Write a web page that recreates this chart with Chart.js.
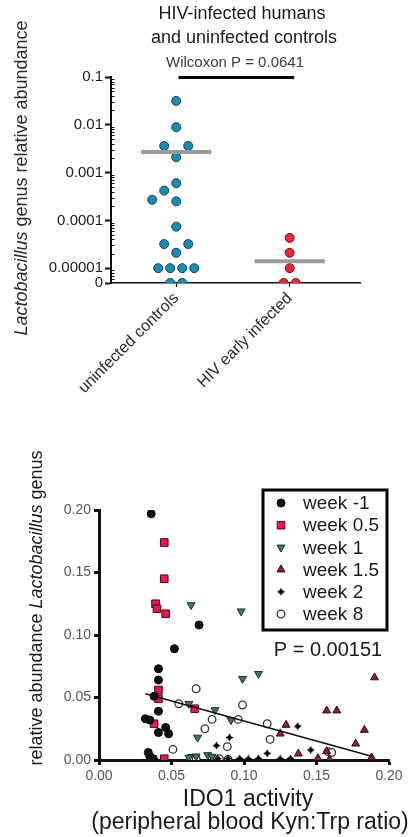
<!DOCTYPE html>
<html>
<head>
<meta charset="utf-8">
<script src="https://cdn.jsdelivr.net/npm/chart.js@4.4.1/dist/chart.umd.min.js"></script>
<style>
  html, body { margin: 0; padding: 0; background: #fff; }
  #wrap { position: relative; width: 415px; height: 837px; overflow: hidden; }
  #wrap canvas { position: absolute; left: 0; }
</style>
</head>
<body>
<div id="wrap">
  <canvas id="abundanceChart" width="415" height="420" style="top:0"></canvas>
  <canvas id="idoChart" width="415" height="417" style="top:420px"></canvas>
</div>
<script>
// --- panel 1: Lactobacillus abundance, controls vs early HIV ---
const groupLabels = ['uninfected controls', 'HIV early infected'];
const controlAbundance = [0.0316, 0.0089, 0.0036, 0.0036, 0.0021, 0.0006, 0.00042, 0.00027, 0.00025,
  0.000074, 0.000032, 0.000032, 0.000021, 0.00001, 0.00001, 0.00001, 0.00001, 0, 0];
const hivAbundance = [0.000043, 0.000021, 0.00001, 0, 0];
const groupMeans = [0.0027, 0.000014];
const abundanceTicks = [0.1, 0.01, 0.001, 0.0001, 0.00001, 0];
const abundanceTickLabels = ['0.1', '0.01', '0.001', '0.0001', '0.00001', '0'];
const abundanceTitle = ['HIV-infected humans', 'and uninfected controls'];
const wilcoxonLabel = 'Wilcoxon P = 0.0641';

// --- panel 2: abundance vs IDO1 activity by week ---
const weekLabels = ['week -1', 'week 0.5', 'week 1', 'week 1.5', 'week 2', 'week 8'];
const weekM1Ido = [0.036, 0.069, 0.052, 0.041, 0.041, 0.038, 0.041, 0.032, 0.035, 0.046, 0.041, 0.048, 0.034, 0.035, 0.0375];
const weekM1Lacto = [0.197, 0.108, 0.089, 0.073, 0.064, 0.051, 0.039, 0.033, 0.032, 0.026, 0.022, 0.021, 0.006, 0.003, 0.001];
const week05Ido = [0.045, 0.045, 0.039, 0.040, 0.046, 0.041, 0.041, 0.038, 0.066, 0.045];
const week05Lacto = [0.174, 0.145, 0.125, 0.121, 0.117, 0.056, 0.049, 0.029, 0.041, 0.001];
const week1Ido = [0.0635, 0.098, 0.099, 0.110, 0.062, 0.080, 0.091, 0.068, 0.062, 0.067, 0.075, 0.078];
const week1Lacto = [0.124, 0.119, 0.065, 0.069, 0.045, 0.040, 0.032, 0.018, 0.002, 0.003, 0.004, 0.0027];
const week15Ido = [0.190, 0.157, 0.164, 0.183, 0.129, 0.125, 0.177, 0.1375, 0.157, 0.151, 0.159, 0.188];
const week15Lacto = [0.066, 0.0395, 0.0395, 0.024, 0.028, 0.021, 0.013, 0.005, 0.007, 0.0013, 0.0006, 0.002];
const week2Ido = [0.137, 0.090, 0.081, 0.116, 0.146, 0.082, 0.089, 0.097, 0.103, 0.110, 0.125, 0.132];
const week2Lacto = [0.027, 0.018, 0.0115, 0.0053, 0.008, 0.001, 0.001, 0.0012, 0.001, 0.0012, 0.001, 0.0012];
const week8Ido = [0.067, 0.055, 0.099, 0.116, 0.078, 0.073, 0.096, 0.118, 0.0885, 0.051, 0.158, 0.1605, 0.063, 0.067, 0.083, 0.089];
const week8Lacto = [0.057, 0.045, 0.044, 0.029, 0.0325, 0.025, 0.0325, 0.0165, 0.0107, 0.0085, 0.0067, 0.006, 0.0015, 0.001, 0.001, 0.0005];
const fitIdo = [0.032, 0.188];
const fitLacto = [0.053, 0.003];
const idoTicks = [0, 0.05, 0.1, 0.15, 0.2];
const lactoTicks = [0, 0.05, 0.1, 0.15, 0.2];
const pValueLabel = 'P = 0.00151';

const fontFamily = '"Liberation Sans", Arial, Helvetica, sans-serif';
const zeroLevel = -5.31;      // where "0" sits below the 1e-5 decade
const dotStep = 0.106;        // horizontal swarm step, in category units
const rowHeight = 4;          // swarm step per decade, in dot steps
const meanHalfWidth = 0.31;

const toLog = (v) => (v > 0 ? Math.log10(v) : zeroLevel);

// simple bee swarm: rows of equal values are centred, then pushed apart if they hit dots below
const swarmOffsets = (values) => {
  const offsets = new Array(values.length).fill(0);
  const placed = [];
  const order = values.map((v, i) => i).sort((a, b) => toLog(values[a]) - toLog(values[b]));
  const hits = (off, y) => placed.some((p) => Math.hypot(p.x - off, (p.y - y) * rowHeight) < 1.1);

  let k = 0;
  while (k < order.length) {
    const v = values[order[k]];
    let n = 1;
    while (k + n < order.length && values[order[k + n]] === v) n++;
    const y = toLog(v);
    let layouts;
    if (n === 1) {
      layouts = [[0], [-1], [1], [-2], [2]];
    } else {
      const centred = Array.from({ length: n }, (_, i) => i - (n - 1) / 2);
      const widened = centred.map((o) => o + Math.sign(o) * 0.5);
      layouts = [centred, widened];
    }
    const pick = layouts.find((l) => l.every((o) => !hits(o, y))) || layouts[layouts.length - 1];
    pick.forEach((o, j) => {
      offsets[order[k + j]] = o;
      placed.push({ x: o, y });
    });
    k += n;
  }
  return offsets;
};

const dotPoints = (values, group) => {
  const offsets = swarmOffsets(values);
  return values.map((v, i) => ({ x: group + 1 + offsets[i] * dotStep, y: toLog(v) }));
};

const meanLine = (group) => [
  { x: group + 1 - meanHalfWidth, y: toLog(groupMeans[group]) },
  { x: group + 1 + meanHalfWidth, y: toLog(groupMeans[group]) }
];

const drawRotatedText = (ctx, parts, cx, cy, size, color) => {
  ctx.save();
  ctx.translate(cx, cy);
  ctx.rotate(-Math.PI / 2);
  ctx.fillStyle = color;
  ctx.textBaseline = 'middle';
  ctx.textAlign = 'left';
  const fontOf = (p) => `${p.italic ? 'italic ' : ''}${size}px ${fontFamily}`;
  let total = 0;
  parts.forEach((p) => { ctx.font = fontOf(p); total += ctx.measureText(p.text).width; });
  let x = -total / 2;
  parts.forEach((p) => {
    ctx.font = fontOf(p);
    ctx.fillText(p.text, x, 0);
    x += ctx.measureText(p.text).width;
  });
  ctx.restore();
};

const drawCentredText = (ctx, text, cx, cy, size, color) => {
  ctx.save();
  ctx.font = `${size}px ${fontFamily}`;
  ctx.fillStyle = color;
  ctx.textAlign = 'center';
  ctx.textBaseline = 'middle';
  ctx.fillText(text, cx, cy);
  ctx.restore();
};

const abundanceDecor = {
  id: 'abundanceDecor',
  afterDraw(chart) {
    const { ctx, scales: { x, y } } = chart;
    const axisX = chart.chartArea.left;

    // minor log ticks on the inside of the y axis
    ctx.save();
    ctx.strokeStyle = '#111';
    ctx.lineWidth = 1;
    for (let d = -6; d <= -2; d++) {
      for (let m = 2; m <= 9; m++) {
        const pos = Math.log10(m) + d;
        if (pos <= zeroLevel + 0.02 || pos >= -1) continue;
        const py = Math.round(y.getPixelForValue(pos)) + 0.5;
        ctx.beginPath();
        ctx.moveTo(axisX, py);
        ctx.lineTo(axisX + 3.5, py);
        ctx.stroke();
      }
    }

    // comparison bar
    const barY = y.getPixelForValue(-1) + 0.5;
    ctx.lineWidth = 3;
    ctx.strokeStyle = '#000';
    ctx.beginPath();
    ctx.moveTo(x.getPixelForValue(1.02), barY);
    ctx.lineTo(x.getPixelForValue(2.04), barY);
    ctx.stroke();
    ctx.restore();

    drawCentredText(ctx, abundanceTitle[0], 242, 14, 18, '#1a1a1a');
    drawCentredText(ctx, abundanceTitle[1], 244, 38, 18, '#1a1a1a');
    drawCentredText(ctx, wilcoxonLabel, 235, 63, 15, '#3a3a3a');
    drawRotatedText(ctx, [
      { text: 'Lactobacillus', italic: true },
      { text: ' genus relative abundance' }
    ], 22, 178, 18, '#2a2a2a');
  }
};

new Chart(document.getElementById('abundanceChart'), {
  type: 'scatter',
  data: {
    datasets: [
      {
        label: 'control means',
        type: 'line',
        data: meanLine(0),
        borderColor: '#9b9b9b',
        borderWidth: 4,
        pointRadius: 0,
        order: 0
      },
      {
        label: 'HIV means',
        type: 'line',
        data: meanLine(1),
        borderColor: '#9b9b9b',
        borderWidth: 4,
        pointRadius: 0,
        order: 0
      },
      {
        label: groupLabels[0],
        data: dotPoints(controlAbundance, 0),
        backgroundColor: '#1d8bb3',
        borderColor: '#0f3f55',
        borderWidth: 1,
        pointRadius: 4.5,
        order: 1
      },
      {
        label: groupLabels[1],
        data: dotPoints(hivAbundance, 1),
        backgroundColor: '#e52a3b',
        borderColor: '#6d1119',
        borderWidth: 1,
        pointRadius: 4.5,
        order: 1
      }
    ]
  },
  options: {
    responsive: false,
    animation: false,
    layout: { padding: { top: 77, right: 55, left: 0, bottom: 0 } },
    plugins: { legend: { display: false }, tooltip: { enabled: false } },
    scales: {
      x: {
        type: 'linear',
        min: 0.425,
        max: 2.62,
        afterBuildTicks: (scale) => { scale.ticks = groupLabels.map((g, i) => ({ value: i + 1 })); },
        afterFit: (scale) => { scale.height = 137; },
        ticks: {
          autoSkip: false,
          minRotation: 45,
          maxRotation: 45,
          padding: 2,
          color: '#2a2a2a',
          font: { family: fontFamily, size: 16 },
          callback: (value, index) => groupLabels[index]
        },
        grid: { drawOnChartArea: false, tickLength: 4, tickColor: '#111', tickWidth: 1 },
        border: { color: '#111', width: 1.5 }
      },
      y: {
        type: 'linear',
        min: zeroLevel,
        max: -1,
        afterBuildTicks: (scale) => { scale.ticks = abundanceTicks.map((v) => ({ value: toLog(v) })); },
        afterFit: (scale) => { scale.width = 111; },
        ticks: {
          padding: 2,
          color: '#1a1a1a',
          font: { family: fontFamily, size: 15 },
          callback: (value, index) => abundanceTickLabels[index]
        },
        grid: { drawOnChartArea: false, tickLength: 6, tickColor: '#111', tickWidth: 2 },
        border: { color: '#111', width: 2 }
      }
    }
  },
  plugins: [abundanceDecor]
});

// small filled four-point star for week 2
const makeStar = () => {
  const c = document.createElement('canvas');
  c.width = 9;
  c.height = 9;
  const g = c.getContext('2d');
  g.fillStyle = '#000';
  g.beginPath();
  g.moveTo(4.5, 0.5);
  g.lineTo(6.0, 3.0);
  g.lineTo(8.5, 4.5);
  g.lineTo(6.0, 6.0);
  g.lineTo(4.5, 8.5);
  g.lineTo(3.0, 6.0);
  g.lineTo(0.5, 4.5);
  g.lineTo(3.0, 3.0);
  g.closePath();
  g.fill();
  return c;
};

const toXY = (xs, ys) => xs.map((x, i) => ({ x, y: ys[i] }));

const weekStyles = [
  { pointStyle: 'circle', pointRadius: 4, backgroundColor: '#111', borderColor: '#000', borderWidth: 1 },
  { pointStyle: 'rect', pointRadius: 5.4, backgroundColor: '#e3194f', borderColor: '#4a0a18', borderWidth: 1 },
  { pointStyle: 'triangle', rotation: 180, pointRadius: 4.6, backgroundColor: '#3f7569', borderColor: '#17302a', borderWidth: 1 },
  { pointStyle: 'triangle', pointRadius: 4.6, backgroundColor: '#8c1f40', borderColor: '#2a0a12', borderWidth: 1 },
  { pointStyle: makeStar(), pointRadius: 4.5, backgroundColor: '#000', borderColor: '#000', borderWidth: 0 },
  { pointStyle: 'circle', pointRadius: 3.8, backgroundColor: '#fff', borderColor: '#333', borderWidth: 1.3 }
];

const weekData = [
  toXY(weekM1Ido, weekM1Lacto),
  toXY(week05Ido, week05Lacto),
  toXY(week1Ido, week1Lacto),
  toXY(week15Ido, week15Lacto),
  toXY(week2Ido, week2Lacto),
  toXY(week8Ido, week8Lacto)
];

const idoDecor = {
  id: 'idoDecor',
  afterDraw(chart) {
    const { ctx } = chart;

    // legend box
    const box = { left: 263, top: 70, right: 387, bottom: 210 };
    ctx.save();
    ctx.fillStyle = '#fff';
    ctx.fillRect(box.left, box.top, box.right - box.left, box.bottom - box.top);
    ctx.lineWidth = 3;
    ctx.strokeStyle = '#000';
    ctx.strokeRect(box.left, box.top, box.right - box.left, box.bottom - box.top);

    const weekSets = chart.data.datasets.filter((d) => d.weekIndex !== undefined);
    weekSets.forEach((ds, i) => {
      const rowY = 83 + i * 22.2;
      ctx.fillStyle = ds.backgroundColor;
      ctx.strokeStyle = ds.borderColor;
      ctx.lineWidth = ds.borderWidth;
      Chart.helpers.drawPoint(ctx, {
        pointStyle: ds.pointStyle,
        rotation: ds.rotation || 0,
        radius: ds.pointRadius,
        borderWidth: ds.borderWidth
      }, 281, rowY);
      ctx.fillStyle = '#1a1a1a';
      ctx.font = `19px ${fontFamily}`;
      ctx.textAlign = 'left';
      ctx.textBaseline = 'middle';
      ctx.fillText(ds.label, 303, rowY + 1);
    });
    ctx.restore();

    drawCentredText(ctx, pValueLabel, 328, 230, 20, '#1a1a1a');
    drawCentredText(ctx, 'IDO1 activity', 248, 380, 23, '#1a1a1a');
    drawCentredText(ctx, '(peripheral blood Kyn:Trp ratio)', 250, 403, 23, '#1a1a1a');
    drawRotatedText(ctx, [
      { text: 'relative abundance ' },
      { text: 'Lactobacillus', italic: true },
      { text: ' genus' }
    ], 37, 188, 18, '#1a1a1a');
  }
};

new Chart(document.getElementById('idoChart'), {
  type: 'scatter',
  data: {
    datasets: [
      {
        label: 'fit',
        type: 'line',
        data: toXY(fitIdo, fitLacto),
        borderColor: '#111',
        borderWidth: 1.5,
        pointRadius: 0,
        order: 0
      },
      ...weekLabels.map((label, i) => ({
        label,
        weekIndex: i,
        data: weekData[i],
        order: 1,
        ...weekStyles[i]
      }))
    ]
  },
  options: {
    responsive: false,
    animation: false,
    layout: { padding: { top: 90, right: 26, left: 0, bottom: 0 } },
    plugins: { legend: { display: false }, tooltip: { enabled: false } },
    scales: {
      x: {
        type: 'linear',
        min: 0,
        max: 0.2,
        afterBuildTicks: (scale) => { scale.ticks = idoTicks.map((v) => ({ value: v })); },
        afterFit: (scale) => { scale.height = 77; },
        ticks: {
          padding: 3,
          color: '#555',
          font: { family: fontFamily, size: 14 },
          callback: (value) => value.toFixed(2)
        },
        grid: { drawOnChartArea: false, tickLength: 5, tickColor: '#111', tickWidth: 3 },
        border: { color: '#111', width: 3 }
      },
      y: {
        type: 'linear',
        min: 0,
        max: 0.2,
        afterBuildTicks: (scale) => { scale.ticks = lactoTicks.map((v) => ({ value: v })); },
        afterFit: (scale) => { scale.width = 99; },
        ticks: {
          padding: 3,
          color: '#555',
          font: { family: fontFamily, size: 14 },
          callback: (value) => value.toFixed(2)
        },
        grid: { drawOnChartArea: false, tickLength: 5, tickColor: '#111', tickWidth: 3 },
        border: { color: '#111', width: 3 }
      }
    }
  },
  plugins: [idoDecor]
});
</script>
</body>
</html>
